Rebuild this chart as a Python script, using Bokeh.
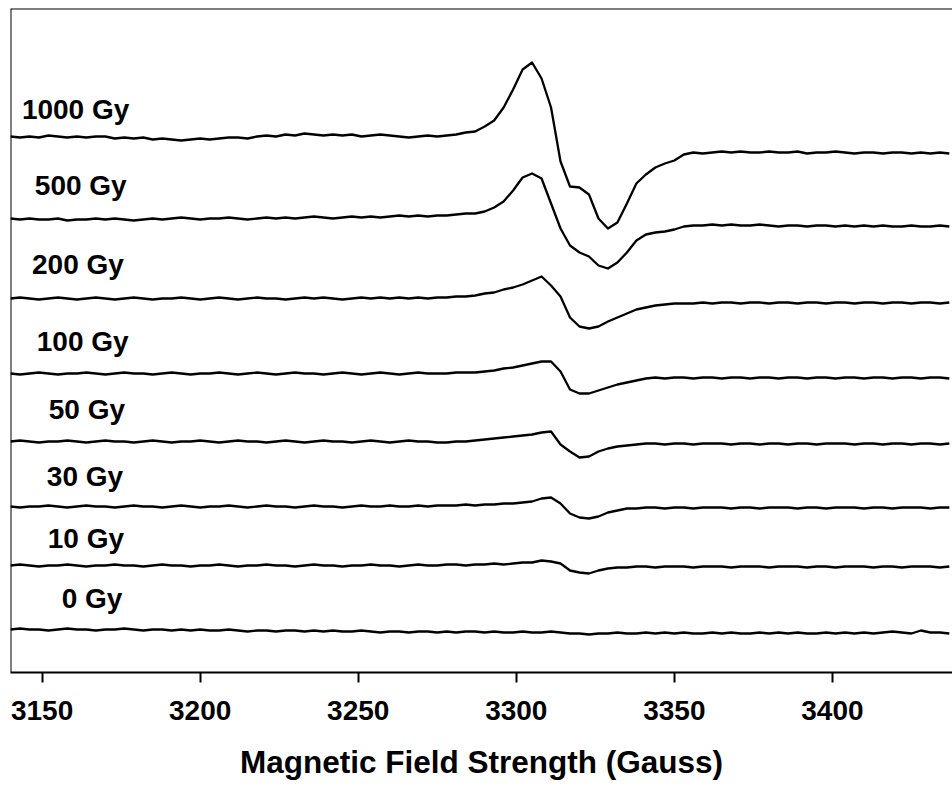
from bokeh.plotting import figure
from bokeh.models import Range1d, FixedTicker, Span, ColumnDataSource
from bokeh.core.properties import value
from bokeh.embed import file_html
from bokeh.resources import INLINE

# Magnetic field sampling (Gauss)
field = [3140, 3143, 3146, 3149, 3152, 3155, 3158, 3161, 3164, 3167,
         3170, 3173, 3176, 3179, 3182, 3185, 3188, 3191, 3194, 3197,
         3200, 3203, 3206, 3209, 3212, 3215, 3218, 3221, 3224, 3227,
         3230, 3233, 3236, 3239, 3242, 3245, 3248, 3251, 3254, 3257,
         3260, 3263, 3266, 3269, 3272, 3275, 3278, 3281, 3284, 3287,
         3290, 3293, 3296, 3299, 3302, 3305, 3308, 3311, 3314, 3317,
         3320, 3323, 3326, 3329, 3332, 3335, 3338, 3341, 3344, 3347,
         3350, 3353, 3356, 3359, 3362, 3365, 3368, 3371, 3374, 3377,
         3380, 3383, 3386, 3389, 3392, 3395, 3398, 3401, 3404, 3407,
         3410, 3413, 3416, 3419, 3422, 3425, 3428, 3431, 3434, 3437]

doses = ["1000 Gy", "500 Gy", "200 Gy", "100 Gy", "50 Gy", "30 Gy", "10 Gy", "0 Gy"]

# vertical stacking offset of each spectrum (a.u.)
offsets = [536, 454, 374, 299, 231, 166, 107, 43]

# EPR signal of each spectrum relative to its own baseline (a.u.)
sig_1000 = [0, -1, 0, -1, 1, 0, -1, 0, -1, 0,
            0, -2, -1, -2, -1, -3, -2, -3, -4, -3,
            -2, -3, -2, -1, -1, -2, 0, 1, 0, 2,
            1, 3, 2, 1, 2, 1, 2, 0, 1, 2,
            1, 0, -1, 0, 1, 0, 1, 2, 4, 5,
            10, 16, 29, 47, 67, 74, 58, 29, -25, -50,
            -51, -58, -82, -92, -86, -67, -47, -38, -31, -27,
            -24, -18, -16, -17, -16, -15, -16, -15, -16, -16,
            -15, -16, -16, -15, -17, -16, -16, -15, -16, -17,
            -16, -16, -17, -16, -16, -17, -16, -17, -16, -17]
sig_500 = [0, -1, 0, -1, -1, 0, -2, -1, -1, 0,
           -1, 0, -1, -2, -1, 0, -1, 0, 1, 0,
           -1, 0, 0, 1, 0, -1, 0, 1, 0, 1,
           0, 1, 2, 1, 0, 1, 2, 1, 2, 1,
           2, 3, 2, 3, 2, 3, 3, 4, 5, 5,
           7, 11, 17, 28, 41, 45, 40, 15, -10, -27,
           -34, -38, -47, -50, -44, -34, -22, -16, -14, -13,
           -11, -8, -7, -7, -6, -7, -6, -7, -7, -6,
           -7, -8, -7, -7, -8, -7, -7, -8, -7, -8,
           -7, -8, -7, -8, -8, -7, -8, -8, -7, -8]
sig_200 = [0, 1, 0, -1, 0, 1, 0, -1, 0, 1,
           0, -1, 0, 1, 0, -1, 0, 0, 1, 0,
           -1, 0, 1, 0, -1, 0, 1, 0, 0, -1,
           0, 1, 0, 1, 0, -1, 0, 1, 0, 1,
           0, 1, 0, 1, 0, 1, 1, 2, 2, 3,
           5, 6, 9, 11, 14, 18, 22, 13, 2, -19,
           -28, -30, -28, -23, -19, -15, -11, -9, -7, -6,
           -5, -5, -5, -4, -5, -4, -4, -5, -4, -4,
           -5, -4, -4, -5, -4, -4, -5, -4, -4, -5,
           -4, -4, -5, -4, -4, -5, -4, -4, -5, -4]
sig_100 = [0, -1, 0, 1, 0, -1, 0, 0, 1, 0,
           -1, 0, 1, 0, 0, -1, 0, 1, 0, -1,
           0, 0, 1, 0, -1, 0, 1, 0, -1, 0,
           1, 0, 0, -1, 0, 1, 0, -1, 0, 1,
           0, -1, 0, 1, 0, 0, 0, 1, 1, 1,
           2, 3, 5, 6, 8, 10, 12, 12, 2, -16,
           -20, -20, -17, -14, -11, -9, -7, -5, -4, -5,
           -4, -4, -5, -4, -4, -5, -4, -4, -5, -4,
           -4, -5, -4, -4, -5, -4, -4, -5, -4, -4,
           -5, -4, -4, -5, -4, -4, -5, -4, -4, -5]
sig_50 = [0, 1, 0, -1, 0, 0, 1, 0, -1, 0,
          1, 0, 0, -1, 0, 1, 0, -1, 0, 0,
          1, 0, -1, 0, 1, 0, 0, -1, 0, 1,
          0, -1, 0, 1, 0, 0, -1, 0, 1, 0,
          -1, 0, 1, 0, 0, -1, -1, 0, 0, 1,
          2, 3, 4, 5, 6, 7, 9, 10, -3, -10,
          -16, -15, -10, -7, -5, -4, -3, -2, -2, -3,
          -2, -2, -3, -2, -2, -2, -3, -2, -2, -3,
          -2, -2, -3, -2, -2, -3, -2, -2, -2, -3,
          -2, -2, -3, -2, -2, -3, -2, -2, -3, -2]
sig_30 = [0, -1, 0, 0, 1, 0, -1, 0, 1, 0,
          0, -1, 0, 1, 0, 0, -1, 0, 1, 0,
          -1, 0, 0, 1, 0, -1, 0, 1, 0, 0,
          -1, 0, 1, 0, 0, -1, 0, 1, 0, 0,
          1, 0, 0, 1, 0, 1, 1, 1, 2, 1,
          2, 2, 3, 3, 4, 5, 8, 9, 3, -7,
          -11, -12, -10, -6, -4, -2, -2, -1, -1, -2,
          -1, -1, -2, -1, -1, -1, -2, -1, -1, -2,
          -1, -1, -1, -2, -1, -1, -2, -1, -1, -1,
          -2, -1, -1, -2, -1, -1, -1, -2, -1, -1]
sig_10 = [0, 1, 0, -1, 0, 0, 1, 0, -1, 0,
          0, 1, 0, 0, -1, 0, 1, 0, 0, -1,
          0, 0, 1, 0, -1, 0, 0, 1, 0, 0,
          -1, 0, 1, 0, 0, -1, 0, 0, 1, 0,
          0, -1, 0, 1, 0, 0, 1, 1, 0, 1,
          1, 2, 1, 2, 3, 3, 5, 4, 2, -5,
          -7, -8, -5, -3, -2, -2, -1, -1, -2, -1,
          -1, -1, -2, -1, -1, -1, -2, -1, -1, -1,
          -2, -1, -1, -1, -2, -1, -1, -2, -1, -1,
          -1, -2, -1, -1, -2, -1, -1, -1, -2, -1]
sig_0 = [0, 1, 0, 0, -1, 0, 1, 0, 0, -1,
         0, 0, 1, 0, -1, 0, 0, -1, 0, -1,
         0, -1, -1, 0, -1, -2, -1, -1, -2, -1,
         -1, -2, -1, -2, -1, -2, -2, -1, -2, -3,
         -2, -2, -3, -2, -2, -3, -2, -3, -2, -2,
         -3, -2, -3, -3, -2, -3, -3, -2, -3, -4,
         -4, -5, -4, -4, -3, -4, -4, -3, -4, -3,
         -4, -3, -4, -4, -3, -4, -3, -4, -4, -3,
         -4, -3, -4, -3, -4, -4, -3, -4, -3, -4,
         -3, -4, -3, -2, -3, -4, -1, -3, -3, -4]

signals = [sig_1000, sig_500, sig_200, sig_100, sig_50, sig_30, sig_10, sig_0]

# label anchor positions (field, a.u.)
label_x = [3143.6, 3147.7, 3146.8, 3148.3, 3152.1, 3151.5, 3151.8, 3156.2]
label_y = [563, 487, 408, 331, 263, 196, 134, 74]

x_ticks = [3150, 3200, 3250, 3300, 3350, 3400]

FONT = "Liberation Sans"

p = figure(width=952, height=792, output_backend="svg", toolbar_location=None,
           x_range=Range1d(3140, 3438), y_range=Range1d(0, 664),
           y_axis_location=None, min_border_left=10, min_border_right=0,
           min_border_top=8, min_border_bottom=120)
p.outline_line_color = None
p.grid.visible = False
p.background_fill_color = "white"
p.border_fill_color = "white"

for off, sig in zip(offsets, signals):
    src = ColumnDataSource(dict(x=field, y=[off + s for s in sig]))
    p.line("x", "y", source=src, line_color="black", line_width=2.3,
           line_join="round")

lab = ColumnDataSource(dict(x=label_x, y=label_y, t=doses))
p.text("x", "y", text="t", source=lab, text_font=value(FONT), text_font_style="bold",
       text_font_size="28px", text_align="left", text_baseline="alphabetic",
       text_color="black")

# frame lines (left and top)
p.add_layout(Span(location=3140, dimension="height", line_color="black", line_width=2))
p.add_layout(Span(location=664, dimension="width", line_color="black", line_width=2))

ax = p.xaxis[0]
ax.ticker = FixedTicker(ticks=x_ticks)
ax.minor_tick_line_color = None
ax.major_tick_in = 0
ax.major_tick_out = 10
ax.major_tick_line_width = 2
ax.axis_line_width = 2
ax.major_label_text_font = FONT
ax.major_label_text_font_style = "bold"
ax.major_label_text_font_size = "28px"
ax.major_label_text_color = "black"
ax.major_label_standoff = 18
ax.axis_label = "Magnetic Field Strength (Gauss)"
ax.axis_label_text_font = FONT
ax.axis_label_text_font_style = "bold"
ax.axis_label_text_font_size = "31.5px"
ax.axis_label_text_color = "black"
ax.axis_label_standoff = 21

open("out.html", "w").write(file_html(p, INLINE))
